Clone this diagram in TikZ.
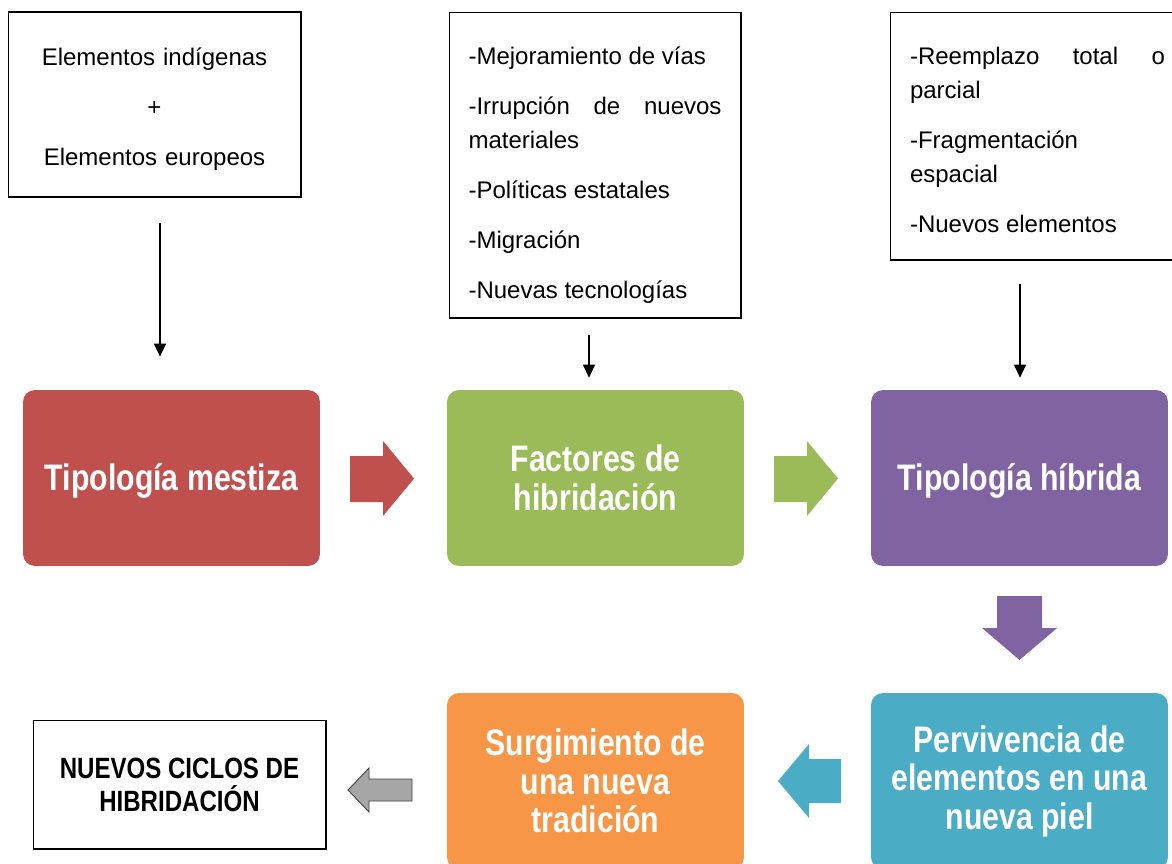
\documentclass[tikz,border=0pt]{standalone}
\usepackage{fontspec}
\setmainfont{Liberation Sans}
\newfontfamily\titlefont[FakeStretch=0.82]{Liberation Sans Bold}
\usetikzlibrary{arrows.meta}

\hyphenpenalty=10000
\exhyphenpenalty=10000
\tolerance=9999

\definecolor{mestizared}{HTML}{C0504D}
\definecolor{factorgreen}{HTML}{9BBB59}
\definecolor{hibridapurple}{HTML}{8064A2}
\definecolor{surgeorange}{HTML}{F79646}
\definecolor{pielteal}{HTML}{4BACC6}

\newcommand{\listgap}{\par\vspace{9.1pt}}

\begin{document}
\begin{tikzpicture}[x=0.02cm, y=-0.02cm,
  plainbox/.style={draw, line width=0.6pt},
  listbox/.style={plainbox, align=justify, inner xsep=0.39cm,
    font=\fontsize{13.66}{19.35}\selectfont},
  stage/.style={rounded corners=0.24cm, text=white, minimum width=5.94cm,
    minimum height=3.52cm, align=center,
    font=\titlefont\fontsize{21}{21.9}\selectfont},
  oneline/.style={text height=0.54cm, text depth=0.06cm},
  feed/.style={-{Triangle[length=0.26cm,width=0.24cm]}, line width=0.6pt}]

\useasboundingbox (0,0) rectangle (1172,863);
\clip (0,0) rectangle (1172,863);

% Top text boxes
\node[plainbox, text width=5.3cm, inner xsep=0.28cm, minimum height=3.7cm, align=center,
  font=\fontsize{13.66}{28.45}\selectfont] (elem) at (154.5,104.5)
  {\rule{0pt}{0.53cm}Elementos indígenas\\+\\Elementos europeos};
\node[listbox, text width=5.06cm, minimum height=6.12cm] (lista) at (595,165)
  {\rule{0pt}{0.77cm}-Mejoramiento de vías\listgap
   -Irrupción de nuevos materiales\listgap
   -Políticas estatales\listgap
   -Migración\listgap
   -Nuevas tecnologías};
\node[listbox, text width=5.1cm, inner xsep=0.4cm, minimum height=4.96cm] (cambio) at (1037.5,136)
  {\rule{0pt}{0.51cm}-Reemplazo total o parcial\listgap
   -Fragmentación espacial\listgap
   -Nuevos elementos};

% Coloured stages
\node[stage, oneline, fill=mestizared] (mestiza) at (171.5,478) {Tipología mestiza};
\node[stage, fill=factorgreen] (factores) at (595.5,478) {Factores de\\hibridación};
\node[stage, oneline, fill=hibridapurple] (hibrida) at (1019.5,478) {Tipología híbrida};
\node[stage, fill=pielteal] (piel) at (1019.5,781) {Pervivencia de\\elementos en una\\nueva piel};
\node[stage, fill=surgeorange] (tradicion) at (595.5,781) {Surgimiento de\\una nueva\\tradición};

% Final box
\node[plainbox, minimum width=5.86cm, minimum height=2.58cm, align=center,
  font=\titlefont\fontsize{16.7}{18.8}\selectfont] (ciclos) at (179.5,784.5)
  {NUEVOS CICLOS DE\\HIBRIDACIÓN};

% Thin arrows into the stages
\draw[feed, shorten <=0.5cm, shorten >=0.66cm] ([xshift=0.11cm]elem.south) -- ([xshift=0.11cm]elem.south |- mestiza.north);
\draw[feed, shorten <=0.32cm, shorten >=0.24cm] ([xshift=-0.12cm]lista.south) -- ([xshift=-0.12cm]lista.south |- factores.north);
\draw[feed, shorten <=0.46cm, shorten >=0.24cm] ([xshift=-0.35cm]cambio.south) -- ([xshift=-0.35cm]cambio.south |- hibrida.north);

% Block arrows between stages
\fill[mestizared] (350,456) -- (383,456) -- (383,441) -- (414,478.5) -- (383,516) -- (383,502) -- (350,502) -- cycle;
\fill[factorgreen] (774,456) -- (807,456) -- (807,441) -- (838,478.5) -- (807,516) -- (807,502) -- (774,502) -- cycle;
\fill[hibridapurple] (997,596) -- (1042,596) -- (1042,628) -- (1057,628) -- (1019.5,660) -- (982,628) -- (997,628) -- cycle;
\fill[pielteal] (841,759) -- (809,759) -- (809,744) -- (778,781) -- (809,818) -- (809,803) -- (841,803) -- cycle;
\draw[fill=black!35, draw=black!75, line width=0.5pt] (412,779) -- (369,779) -- (369,768) -- (348,790) -- (369,812) -- (369,801) -- (412,801) -- cycle;

\end{tikzpicture}
\end{document}
